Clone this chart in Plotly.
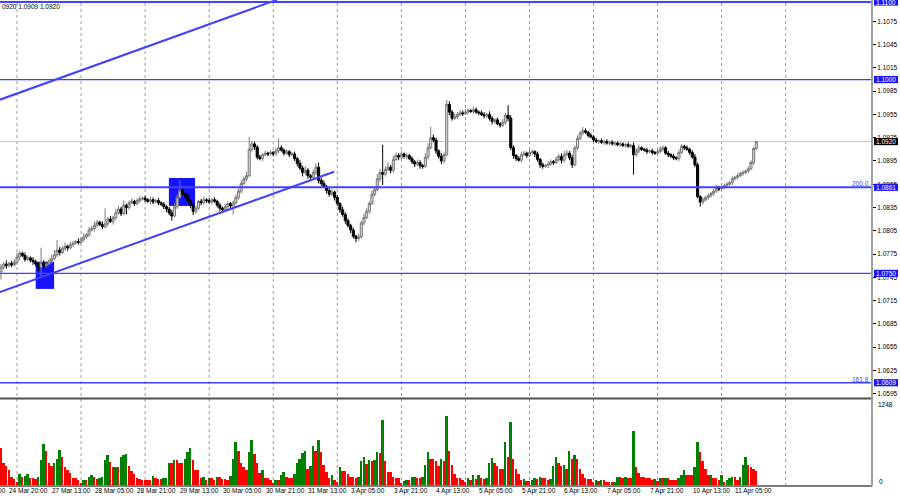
import plotly.graph_objects as go

# ---------------- data (EURUSD H1, prices in pips: 10758 -> 1.0758) ----------------
first_open_pips = 10752
close_pips = [
    10758, 10762, 10760, 10763, 10761, 10764, 10771, 10776, 10773, 10768,
    10770, 10767, 10765, 10762, 10758, 10764, 10760, 10762, 10766, 10769,
    10774, 10780, 10777, 10782, 10785, 10783, 10787, 10789, 10791, 10790,
    10794, 10797, 10800, 10806, 10808, 10812, 10816, 10813, 10810, 10814,
    10820, 10817, 10822, 10828, 10833, 10827, 10838, 10835, 10841, 10843,
    10840, 10844, 10846, 10847, 10845, 10843, 10845, 10842, 10844, 10841,
    10839, 10836, 10833, 10828, 10824, 10836, 10848, 10857, 10853, 10850,
    10844, 10838, 10830, 10834, 10843, 10841, 10845, 10844, 10842, 10845,
    10843, 10838, 10834, 10832, 10836, 10840, 10837, 10841, 10848, 10856,
    10866, 10872, 10876, 10910, 10917, 10913, 10900, 10898, 10903, 10905,
    10904, 10906, 10904, 10908, 10912, 10909, 10905, 10907, 10903, 10904,
    10898, 10892, 10886, 10880, 10883, 10876, 10874, 10880, 10887, 10870,
    10866, 10862, 10857, 10852, 10855, 10848, 10840, 10832, 10826, 10818,
    10812, 10806, 10798, 10795, 10797, 10815, 10822, 10830, 10840, 10852,
    10858, 10872, 10880, 10878, 10884, 10887, 10883, 10897, 10902, 10900,
    10904, 10901, 10902, 10898, 10894, 10891, 10893, 10889, 10888, 10900,
    10912, 10925, 10922, 10908, 10901, 10895, 10903, 10968, 10958, 10950,
    10952, 10955, 10957, 10956, 10958, 10960, 10959, 10961, 10958, 10957,
    10955, 10953, 10955, 10950, 10946, 10948, 10943, 10941, 10945, 10954,
    10950, 10912, 10902, 10898, 10896, 10903, 10905, 10902, 10906, 10907,
    10904, 10897, 10890, 10888, 10889, 10891, 10894, 10893, 10897, 10901,
    10896, 10903, 10905, 10899, 10890, 10912, 10924, 10931, 10934, 10932,
    10928, 10926, 10922, 10920, 10921, 10919, 10920, 10918, 10919, 10917,
    10918, 10916, 10917, 10915, 10916, 10914, 10915, 10903, 10908, 10912,
    10910, 10909, 10907, 10908, 10906, 10905, 10907, 10910, 10912, 10905,
    10903, 10901, 10899, 10898, 10906, 10914, 10912, 10910, 10906, 10900,
    10890, 10849, 10842, 10845, 10848, 10850, 10853, 10856, 10860, 10859,
    10861, 10863, 10865, 10867, 10872, 10874, 10876, 10879, 10880, 10882,
    10885, 10893, 10911, 10920,
]
upper_wick_pips = [
    4, 3, 5, 2, 3, 4, 6, 3, 2, 4,
    3, 2, 4, 3, 2, 19, 3, 4, 3, 5,
    6, 13, 4, 3, 5, 2, 4, 3, 2, 4,
    3, 5, 2, 4, 3, 5, 3, 2, 4, 20,
    3, 4, 2, 5, 4, 3, 6, 2, 3, 4,
    2, 3, 4, 2, 3, 2, 4, 3, 2, 3,
    2, 3, 2, 3, 4, 5, 4, 13, 3, 2,
    3, 2, 4, 3, 2, 3, 4, 2, 3, 2,
    3, 2, 3, 2, 4, 3, 2, 3, 4, 3,
    4, 3, 5, 16, 4, 3, 2, 3, 2, 3,
    2, 3, 2, 4, 12, 3, 2, 3, 2, 3,
    3, 2, 4, 3, 5, 3, 2, 4, 5, 6,
    3, 4, 2, 3, 4, 2, 3, 2, 4, 3,
    3, 2, 3, 2, 4, 3, 5, 4, 3, 5,
    4, 6, 5, 36, 4, 6, 3, 5, 4, 3,
    4, 2, 3, 2, 3, 2, 4, 3, 2, 5,
    6, 14, 4, 3, 2, 4, 3, 6, 4, 3,
    4, 3, 4, 3, 4, 3, 2, 4, 3, 2,
    3, 3, 2, 4, 3, 2, 3, 2, 4, 3,
    13, 4, 3, 2, 3, 4, 3, 2, 4, 3,
    2, 3, 2, 3, 2, 4, 3, 2, 4, 3,
    4, 5, 4, 3, 4, 3, 4, 3, 5, 3,
    2, 3, 2, 3, 2, 3, 2, 3, 2, 3,
    2, 2, 3, 2, 2, 3, 2, 4, 3, 4,
    2, 2, 3, 2, 3, 2, 3, 4, 3, 2,
    3, 2, 3, 2, 4, 3, 2, 3, 2, 3,
    4, 3, 2, 3, 2, 3, 2, 3, 4, 3,
    2, 3, 3, 2, 3, 2, 3, 2, 3, 2,
    3, 3, 2, 0,
]
lower_wick_pips = [
    10, 3, 4, 2, 3, 2, 3, 4, 2, 3,
    2, 3, 4, 3, 5, 13, 4, 3, 2, 3,
    2, 3, 4, 2, 3, 4, 2, 3, 2, 3,
    2, 3, 2, 3, 2, 4, 3, 2, 3, 2,
    3, 2, 4, 3, 2, 3, 2, 9, 3, 2,
    3, 2, 3, 2, 3, 2, 4, 3, 2, 3,
    2, 3, 4, 3, 6, 2, 3, 2, 3, 4,
    3, 4, 5, 3, 2, 3, 2, 3, 2, 3,
    2, 3, 4, 3, 2, 3, 4, 11, 2, 3,
    3, 2, 3, 2, 3, 4, 3, 2, 3, 2,
    3, 2, 3, 2, 3, 2, 3, 2, 3, 2,
    3, 4, 3, 5, 3, 4, 3, 2, 3, 4,
    3, 2, 4, 3, 2, 4, 3, 4, 3, 4,
    3, 4, 3, 5, 3, 2, 3, 2, 3, 2,
    3, 2, 4, 14, 3, 2, 4, 3, 2, 4,
    3, 3, 4, 2, 3, 4, 3, 4, 3, 2,
    3, 2, 3, 4, 3, 4, 3, 2, 4, 3,
    2, 3, 2, 3, 2, 3, 2, 3, 2, 3,
    2, 3, 2, 3, 4, 3, 2, 3, 2, 3,
    4, 3, 4, 3, 2, 3, 2, 3, 2, 3,
    4, 3, 4, 3, 2, 3, 2, 3, 2, 3,
    4, 3, 2, 3, 4, 2, 3, 2, 3, 2,
    3, 2, 3, 2, 3, 2, 3, 2, 3, 2,
    3, 2, 3, 2, 3, 2, 3, 26, 2, 3,
    2, 2, 3, 2, 3, 2, 3, 2, 3, 2,
    3, 2, 3, 2, 3, 2, 3, 2, 3, 2,
    3, 2, 6, 3, 2, 3, 2, 3, 2, 3,
    2, 3, 2, 2, 3, 2, 3, 2, 3, 2,
    3, 2, 3, 2,
]
volumes = [
    552, 335, 286, 226, 125, 90, 50, 160, 125, 135,
    160, 110, 110, 95, 115, 376, 612, 511, 326, 286,
    326, 386, 526, 416, 266, 226, 185, 110, 100, 80,
    35, 80, 70, 125, 145, 115, 95, 100, 125, 376,
    451, 351, 266, 276, 266, 416, 446, 466, 286, 216,
    165, 100, 90, 80, 70, 70, 70, 135, 110, 95,
    95, 100, 105, 336, 326, 376, 376, 326, 326, 386,
    496, 552, 376, 226, 226, 110, 115, 70, 100, 100,
    70, 115, 115, 90, 90, 70, 135, 386, 642, 506,
    336, 266, 226, 496, 677, 466, 326, 185, 226, 100,
    100, 70, 35, 80, 80, 145, 190, 125, 100, 100,
    165, 336, 396, 476, 511, 246, 286, 587, 511, 677,
    496, 301, 200, 100, 150, 70, 50, 271, 205, 205,
    160, 115, 115, 100, 115, 366, 426, 311, 376, 366,
    376, 491, 486, 978, 361, 200, 200, 115, 100, 100,
    35, 55, 70, 70, 115, 125, 100, 100, 115, 301,
    501, 396, 396, 366, 286, 396, 366, 1038, 506, 301,
    165, 100, 100, 70, 50, 100, 80, 145, 90, 145,
    110, 95, 105, 331, 401, 326, 286, 236, 236, 652,
    416, 943, 386, 246, 165, 80, 90, 60, 60, 80,
    100, 90, 125, 105, 100, 80, 95, 281, 416, 336,
    286, 296, 236, 516, 386, 446, 396, 236, 165, 100,
    90, 90, 45, 80, 60, 80, 70, 45, 45, 45,
    50, 125, 125, 105, 115, 105, 105, 817, 266, 175,
    125, 115, 100, 100, 70, 90, 60, 105, 100, 105,
    100, 80, 80, 80, 100, 155, 226, 155, 155, 155,
    276, 642, 496, 366, 236, 145, 155, 100, 100, 70,
    145, 45, 70, 105, 115, 115, 80, 125, 296, 416,
    300, 266, 240, 211,
]
time_label_bars = [-14, 2, 18, 34, 50, 66, 82, 98, 114, 130, 146, 162, 178, 194, 210, 226, 242, 258, 274]
time_labels = ["24 Mar 04:00", "24 Mar 20:00", "27 Mar 13:00", "28 Mar 05:00", "28 Mar 21:00",
               "29 Mar 13:00", "30 Mar 05:00", "30 Mar 21:00", "31 Mar 13:00", "3 Apr 05:00",
               "3 Apr 21:00", "4 Apr 13:00", "5 Apr 05:00", "5 Apr 21:00", "6 Apr 13:00",
               "7 Apr 05:00", "7 Apr 21:00", "10 Apr 13:00", "11 Apr 05:00"]
grid_bars = [6, 30, 54, 78, 102, 126, 150, 174, 198, 222, 246, 270, 294]
price_ticks = [1.1075, 1.1045, 1.1015, 1.0985, 1.0955, 1.0925, 1.0895, 1.0865, 1.0835,
               1.0805, 1.0775, 1.0745, 1.0715, 1.0685, 1.0655, 1.0625, 1.0595]
levels = [1.1100, 1.1000, 1.0861, 1.0750, 1.0609]
level_widths = [2, 1.3, 2, 1.3, 1.5]
fib_levels = [1.0861, 1.0609]
fib_texts = ["200.0", "161.8"]
current_price = 1.0920
volume_max_label = 1248
box_bar_start = [13.0, 62.9]
box_bar_end = [19.9, 72.7]
box_price_low = [1.0730, 1.0837]
box_price_high = [1.0765, 1.0873]
channel_bars = [-0.4, 103.5]
channel_prices = [1.0974, 1.1103]
trend_bars = [-0.4, 124.8]
trend_prices = [1.0726, 1.0881]
header_text = "0920 1.0909 1.0920"

# ---------------- derived ----------------
n = len(close_pips)
bars = list(range(n))
closes = [c / 10000 for c in close_pips]
opens = [first_open_pips / 10000] + closes[:-1]
highs = [max(o, c) + u / 10000 for o, c, u in zip(opens, closes, upper_wick_pips)]
lows = [min(o, c) - d / 10000 for o, c, d in zip(opens, closes, lower_wick_pips)]
vol_colors = ["#ff0000"] + ["#008000" if volumes[i] > volumes[i - 1] else "#ff0000" for i in range(1, n)]

FONT = "Liberation Sans, Arial, sans-serif"
FS = 6.5
BLUE = "#1414ff"
LINEBLUE = "#4040ff"

W, H = 900, 500
ML, MR, MT, MB = 0, 28, 0, 14
PW, PH = W - ML - MR, H - MT - MB
x_range = [-0.375, 326.34]
y_range = [1.059059, 1.110258]
price_dom = [(PH - 397) / PH, 1.0]
vol_dom = [0.0, (PH - 400) / PH]
vol_range = [-15, 1278]


def bar_to_paper(b):
    return (b - x_range[0]) / (x_range[1] - x_range[0])


def px_to_paper_y(py):
    return (PH - py) / PH


fig = go.Figure()
fig.add_trace(go.Candlestick(
    x=bars, open=opens, high=highs, low=lows, close=closes,
    increasing=dict(line=dict(color="#7a7a7a", width=1), fillcolor="#d8d8d8"),
    decreasing=dict(line=dict(color="#000000", width=1), fillcolor="#000000"),
    whiskerwidth=0, xaxis="x", yaxis="y", hoverinfo="skip", showlegend=False,
))
fig.add_trace(go.Scatter(x=channel_bars, y=channel_prices, mode="lines",
                         line=dict(color=LINEBLUE, width=2), xaxis="x", yaxis="y",
                         hoverinfo="skip", showlegend=False))
fig.add_trace(go.Scatter(x=trend_bars, y=trend_prices, mode="lines",
                         line=dict(color=LINEBLUE, width=2), xaxis="x", yaxis="y",
                         hoverinfo="skip", showlegend=False))
fig.add_trace(go.Bar(x=bars, y=volumes, marker=dict(color=vol_colors, line=dict(width=0)),
                     width=0.72, xaxis="x", yaxis="y2", hoverinfo="skip", showlegend=False))

shapes = []
for gb in grid_bars:
    shapes.append(dict(type="line", xref="x", yref="paper", x0=gb, x1=gb, y0=0, y1=1,
                       line=dict(color="#9a9a9a", width=1, dash="dot"), layer="below"))
for b0, b1, pl, ph in zip(box_bar_start, box_bar_end, box_price_low, box_price_high):
    shapes.append(dict(type="rect", xref="x", yref="y", x0=b0, x1=b1, y0=pl, y1=ph,
                       fillcolor=BLUE, line=dict(width=0), layer="below"))
shapes.append(dict(type="line", xref="paper", yref="y", x0=0, x1=1, y0=current_price, y1=current_price,
                   line=dict(color="#c8c8c8", width=1), layer="below"))
for lv, lw in zip(levels, level_widths):
    shapes.append(dict(type="line", xref="paper", yref="y", x0=0, x1=1, y0=lv, y1=lv,
                       line=dict(color=LINEBLUE, width=lw), layer="above"))
shapes.append(dict(type="line", xref="paper", yref="paper", x0=0, x1=1,
                   y0=px_to_paper_y(398.5), y1=px_to_paper_y(398.5),
                   line=dict(color="#505050", width=2)))
shapes.append(dict(type="line", xref="paper", yref="paper", x0=0, x1=1, y0=0, y1=0,
                   line=dict(color="#505050", width=1.5)))
shapes.append(dict(type="line", xref="paper", yref="paper", x0=1, x1=1, y0=0, y1=1,
                   line=dict(color="#a0a0a0", width=2)))

half_box = 3.6 / (PH * (price_dom[1] - price_dom[0])) * (y_range[1] - y_range[0])
bx0, bx1 = 1 + 2 / PW, 1 + 26 / PW
annotations = []
for lv in levels + [current_price]:
    col = "#000000" if lv == current_price else BLUE
    shapes.append(dict(type="rect", xref="paper", yref="y", x0=bx0, x1=bx1,
                       y0=lv - half_box, y1=lv + half_box, fillcolor=col, line=dict(width=0),
                       layer="above"))
    annotations.append(dict(xref="paper", yref="y", x=(bx0 + bx1) / 2, y=lv, text=f"{lv:.4f}",
                            showarrow=False, xanchor="center", yanchor="middle",
                            font=dict(family=FONT, size=FS, color="#ffffff")))

for fl, ft in zip(fib_levels, fib_texts):
    annotations.append(dict(xref="paper", yref="y", x=1 - 1 / PW, y=fl, text=ft, showarrow=False,
                            xanchor="right", yanchor="bottom", yshift=-2,
                            font=dict(family=FONT, size=FS, color="#3c3cff")))

for tb, tl in zip(time_label_bars, time_labels):
    annotations.append(dict(xref="paper", yref="paper", x=bar_to_paper(tb), y=px_to_paper_y(490.5),
                            text=tl, showarrow=False, xanchor="left", yanchor="middle", xshift=1,
                            font=dict(family=FONT, size=FS, color="#000000")))

annotations.append(dict(xref="paper", yref="paper", x=1 + 4 / PW, y=px_to_paper_y(404),
                        text=str(volume_max_label), showarrow=False, xanchor="left", yanchor="middle",
                        font=dict(family=FONT, size=FS, color="#000000")))
annotations.append(dict(xref="paper", yref="paper", x=1 + 5 / PW, y=px_to_paper_y(481),
                        text="0", showarrow=False, xanchor="left", yanchor="middle",
                        font=dict(family=FONT, size=FS, color="#000000")))
annotations.append(dict(xref="paper", yref="paper", x=0, y=px_to_paper_y(6.7), text=header_text,
                        showarrow=False, xanchor="left", yanchor="middle",
                        font=dict(family=FONT, size=FS, color="#000000")))

fig.update_layout(
    width=W, height=H, margin=dict(l=ML, r=MR, t=MT, b=MB, autoexpand=False),
    paper_bgcolor="#ffffff", plot_bgcolor="#ffffff",
    showlegend=False, boxgap=0.22, boxgroupgap=0, bargap=0,
    xaxis=dict(range=x_range, showticklabels=False, showgrid=False, zeroline=False,
               showline=False, ticks="", rangeslider=dict(visible=False), fixedrange=True),
    yaxis=dict(domain=price_dom, range=y_range, side="right", showgrid=False, zeroline=False,
               showline=False, tickvals=price_ticks, ticktext=[f"{t:.4f}" for t in price_ticks],
               ticks="outside", ticklen=3, tickwidth=1, tickcolor="#000000", automargin=False,
               tickfont=dict(family=FONT, size=FS, color="#000000"), fixedrange=True),
    yaxis2=dict(domain=vol_dom, range=vol_range, showgrid=False, zeroline=False,
                showticklabels=False, showline=False, ticks="", fixedrange=True),
    shapes=shapes, annotations=annotations,
)
fig.write_html("out.html", config={"displayModeBar": False},
               post_script="document.body.style.margin='0';document.body.style.padding='0';"
                           "document.body.style.overflow='hidden';")
